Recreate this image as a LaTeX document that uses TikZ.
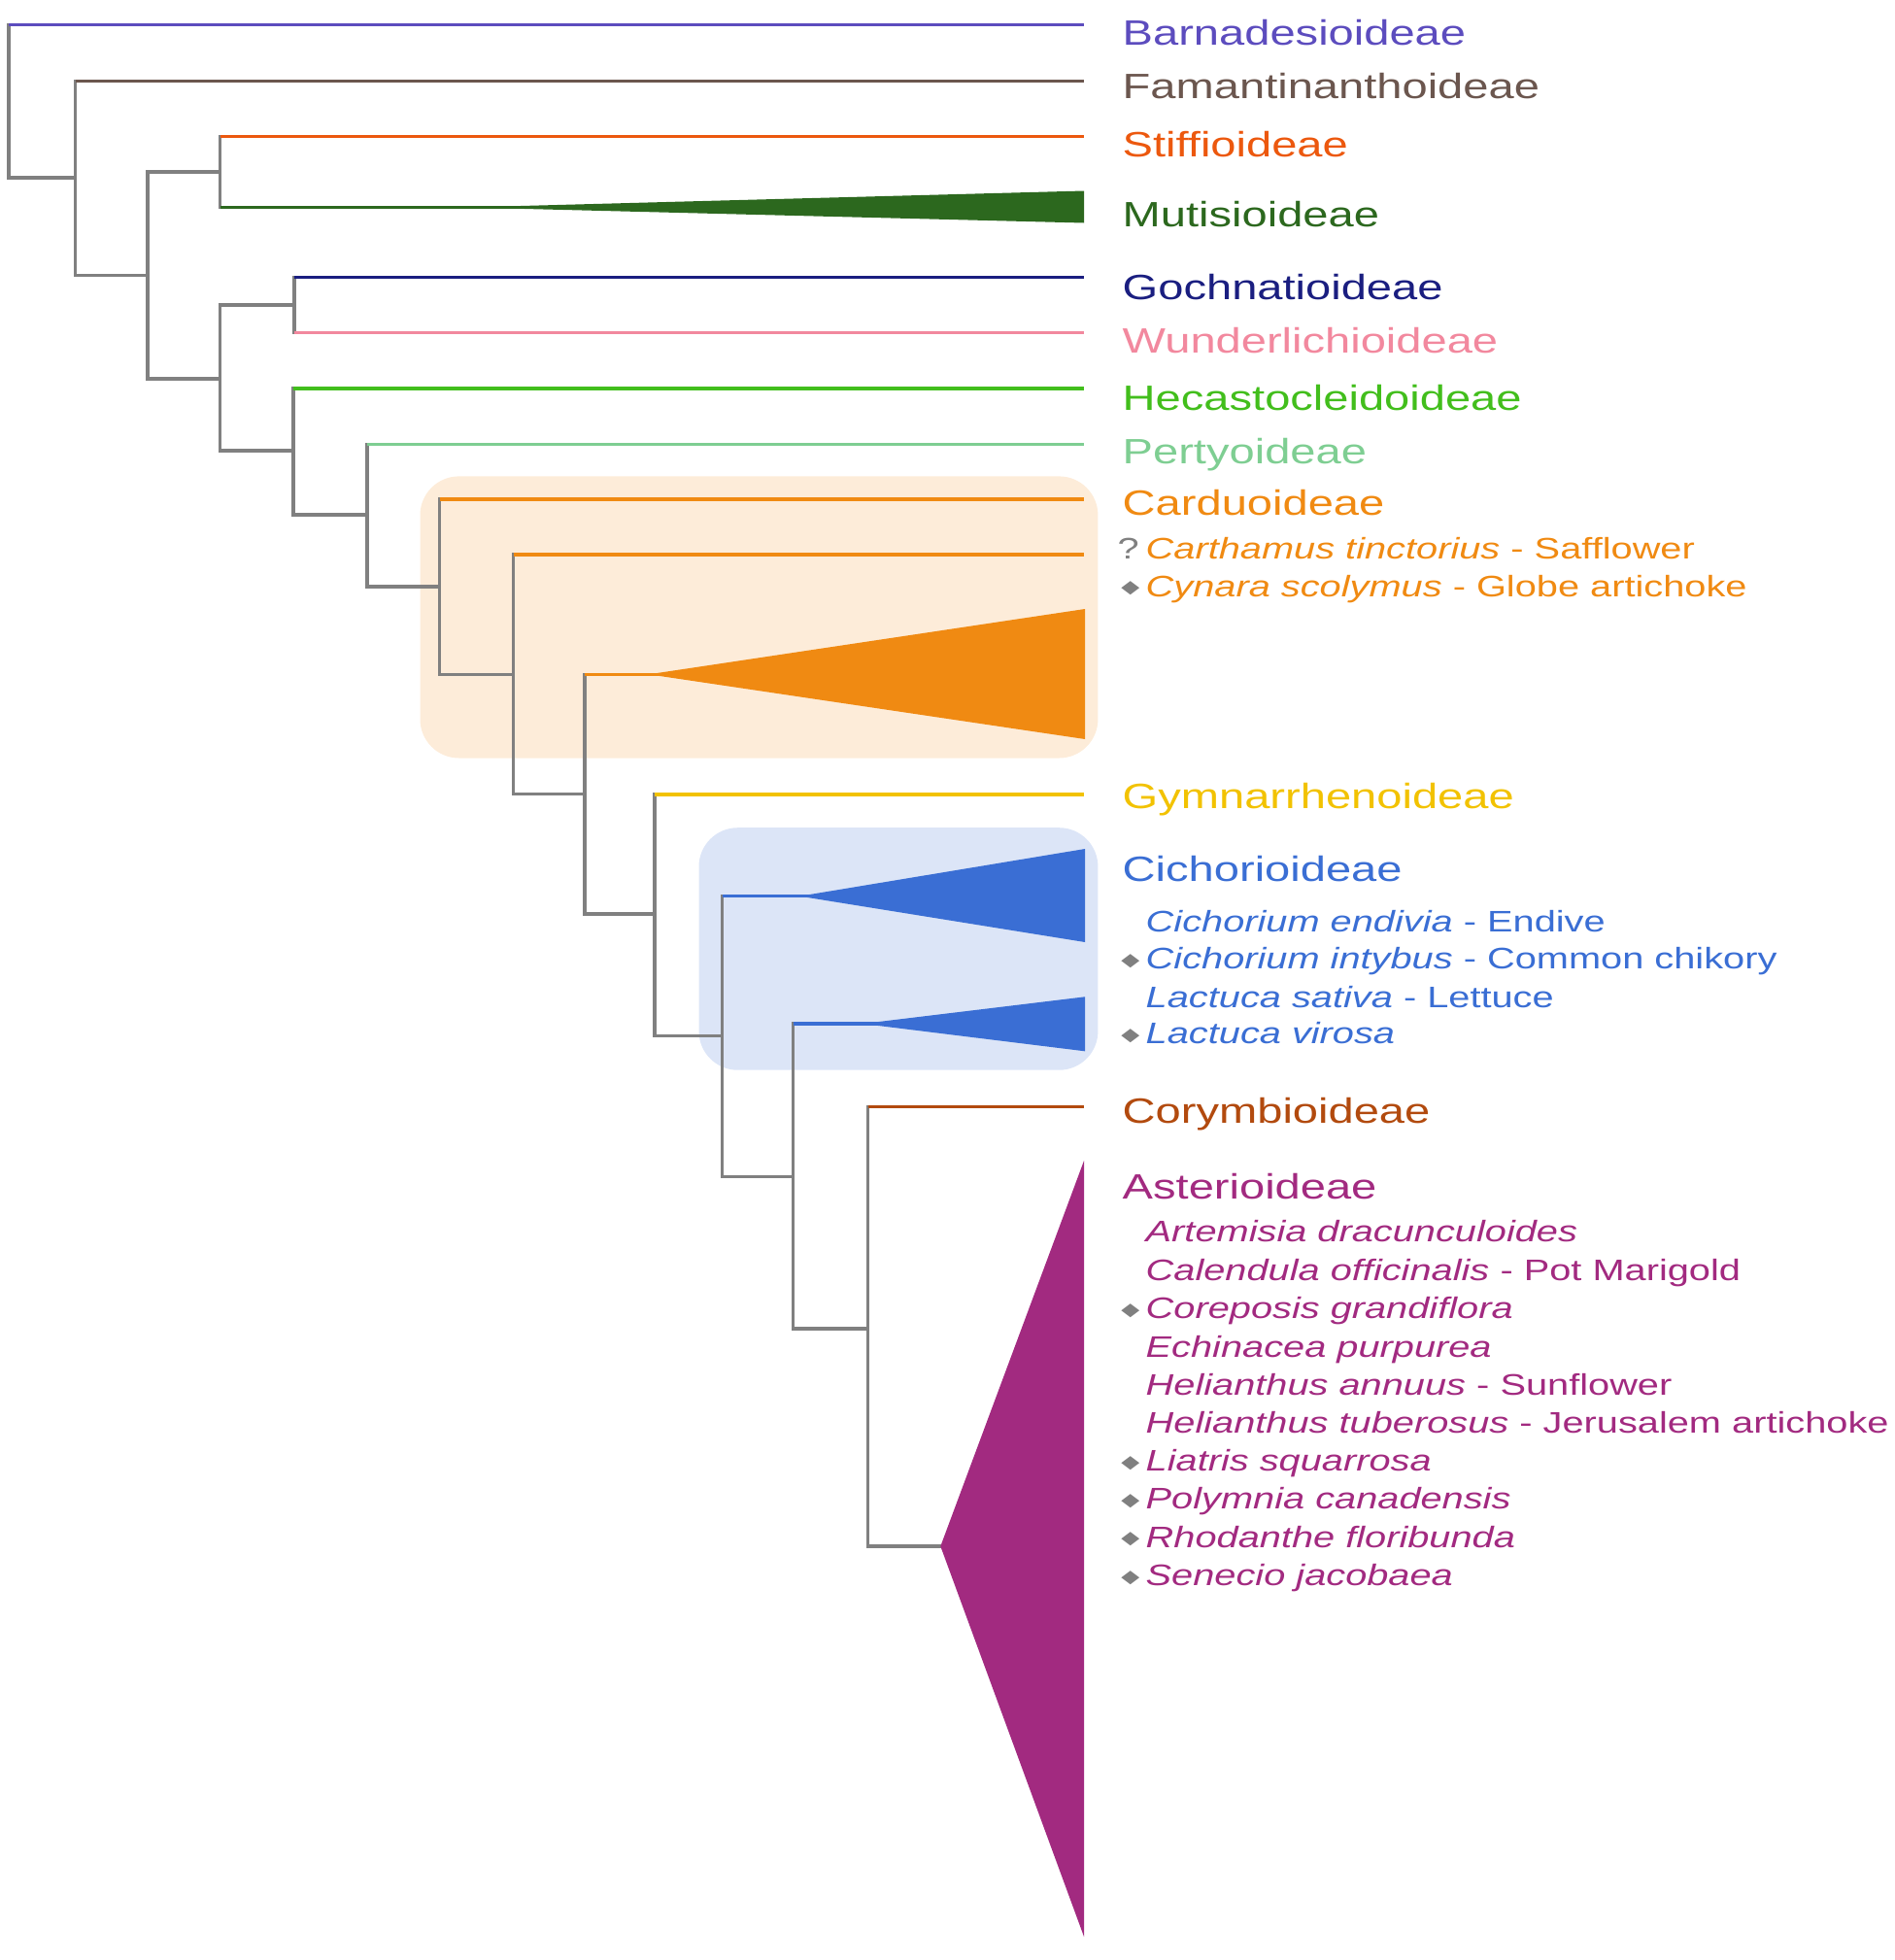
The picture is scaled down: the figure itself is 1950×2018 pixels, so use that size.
\documentclass[tikz,border=0pt]{standalone}
\usepackage{fontspec}
\setmainfont{Liberation Sans}[FakeStretch=1.3]
\newfontfamily\symfont{DejaVu Sans}
\usepackage{xcolor}
\usepackage{tikz}
\usetikzlibrary{calc}

\definecolor{treegray}{RGB}{128,128,128}
\definecolor{cbarn}{RGB}{92,76,190}
\definecolor{cfama}{RGB}{107,86,78}
\definecolor{cstif}{RGB}{236,88,14}
\definecolor{cmuti}{RGB}{44,104,30}
\definecolor{cgoch}{RGB}{26,30,128}
\definecolor{cwund}{RGB}{242,136,158}
\definecolor{checa}{RGB}{66,190,28}
\definecolor{cpert}{RGB}{126,206,146}
\definecolor{ccard}{RGB}{240,138,18}
\definecolor{ccardbox}{RGB}{253,236,217}
\definecolor{cgymn}{RGB}{242,194,0}
\definecolor{ccich}{RGB}{58,110,212}
\definecolor{ccichbox}{RGB}{220,229,247}
\definecolor{ccory}{RGB}{178,74,14}
\definecolor{caste}{RGB}{162,42,128}

\newcommand{\dia}{\llap{\raisebox{0.9pt}{\scalebox{1}[0.75]{\symfont\fontsize{7}{7}\selectfont\color{treegray}◆}}\hspace{1.8pt}}}
\newcommand{\qm}{\llap{{\color{treegray}?}\hspace{2pt}}}

\begin{document}
\begin{tikzpicture}[
        x=0.01cm, y=-0.01cm,
        branch/.style={draw=treegray, line width=1pt, line cap=rect},
        tipline/.style={line width=0.9pt},
        hlbox/.style={rounded corners=0.4cm},
        lab/.style={anchor=base west, inner sep=0pt, font=\fontsize{10.3}{12}\selectfont},
        sp/.style={anchor=base west, inner sep=0pt, font=\fontsize{8.7}{10}\selectfont}
    ]
        \useasboundingbox (0,0) rectangle (1950,2018);

        \fill [hlbox, ccardbox] (432.5,490.4) rectangle (1130.4,780.5);
        \fill [hlbox, ccichbox] (719.5,852.2) rectangle (1130.4,1101.7);

        \coordinate (n1) at (8.8,104.6);
        \coordinate (n2) at (77.5,183);
        \coordinate (n3) at (152,283.5);
        \coordinate (n4) at (226.5,177);
        \coordinate (n5) at (226.5,390);
        \coordinate (n6) at (303,314);
        \coordinate (n7) at (302,464);
        \coordinate (n8) at (378,530);
        \coordinate (n9) at (452.6,604);
        \coordinate (n10) at (528.5,694.3);
        \coordinate (n11) at (601.8,817.6);
        \coordinate (n12) at (674,941);
        \coordinate (n13) at (743.5,1066.7);
        \coordinate (n14) at (816.7,1211.7);
        \coordinate (n15) at (893.5,1367.8);

        \coordinate (barn) at (1116,25.7);
        \coordinate (fama) at (1116,83.4);
        \coordinate (stif) at (1116,140.4);
        \coordinate (muti) at (480,213.5);
        \coordinate (goch) at (1116,285.5);
        \coordinate (wund) at (1116,342.4);
        \coordinate (heca) at (1116,400);
        \coordinate (pert) at (1116,457.5);
        \coordinate (card) at (1116,514);
        \coordinate (card2) at (1116,571);
        \coordinate (cardw) at (667.8,694.3);
        \coordinate (gymn) at (1116,818);
        \coordinate (cichw) at (823.3,922.7);
        \coordinate (lactw) at (888,1054);
        \coordinate (cory) at (1116,1139.5);
        \coordinate (aste) at (968.3,1592);

        \draw [branch] (n1 |- barn) -- (n1 |- n2) -- (n2);
        \draw [branch] (n2 |- fama) -- (n2 |- n3) -- (n3);
        \draw [branch] (n4) -- (n3 |- n4) -- (n3 |- n5) -- (n5);
        \draw [branch] (n4 |- stif) -- (n4 |- muti);
        \draw [branch] (n6) -- (n5 |- n6) -- (n5 |- n7) -- (n7);
        \draw [branch] (n6 |- goch) -- (n6 |- wund);
        \draw [branch] (n7 |- heca) -- (n7 |- n8) -- (n8);
        \draw [branch] (n8 |- pert) -- (n8 |- n9) -- (n9);
        \draw [branch] (n9 |- card) -- (n9 |- n10) -- (n10);
        \draw [branch] (n10 |- card2) -- (n10 |- n11) -- (n11);
        \draw [branch] (n11 |- cardw) -- (n11 |- n12) -- (n12);
        \draw [branch] (n12 |- gymn) -- (n12 |- n13) -- (n13);
        \draw [branch] (n13 |- cichw) -- (n13 |- n14) -- (n14);
        \draw [branch] (n14 |- lactw) -- (n14 |- n15) -- (n15);
        \draw [branch] (n15 |- cory) -- (n15 |- aste) -- ($(aste)+(8,0)$);

        \draw [tipline, cbarn] (n1 |- barn) -- (barn);
        \draw [tipline, cfama] (n2 |- fama) -- (fama);
        \draw [tipline, cstif] (n4 |- stif) -- (stif);
        \fill [cmuti] (muti) -- (1116,196.5) -- (1116,229.5) -- cycle;
        \draw [tipline, cmuti] (n4 |- muti) -- ($(muti)+(120,0)$);
        \draw [tipline, cgoch] (n6 |- goch) -- (goch);
        \draw [tipline, cwund] (n6 |- wund) -- (wund);
        \draw [tipline, checa] (n7 |- heca) -- (heca);
        \draw [tipline, cpert] (n8 |- pert) -- (pert);
        \draw [tipline, ccard] (n9 |- card) -- (card);
        \draw [tipline, ccard] (n10 |- card2) -- (card2);
        \fill [ccard] (cardw) -- (1117,627) -- (1117,761) -- cycle;
        \draw [tipline, ccard] (n11 |- cardw) -- ($(cardw)+(30,0)$);
        \draw [tipline, cgymn] (n12 |- gymn) -- (gymn);
        \fill [ccich] (cichw) -- (1117,874) -- (1117,970) -- cycle;
        \draw [tipline, ccich] (n13 |- cichw) -- ($(cichw)+(30,0)$);
        \fill [ccich] (lactw) -- (1117,1026.3) -- (1117,1082.3) -- cycle;
        \draw [tipline, ccich] (n14 |- lactw) -- ($(lactw)+(30,0)$);
        \draw [tipline, ccory] (n15 |- cory) -- (cory);
        \fill [caste] (aste) -- (1116,1195) -- (1116,1994) -- cycle;

        \node (lbarn) [lab, text=cbarn] at (1155,46.7) {Barnadesioideae};
        \node (lfama) [lab, text=cfama] at (1155,101.7) {Famantinanthoideae};
        \node (lstif) [lab, text=cstif] at (1155,161.7) {Stiffioideae};
        \node (lmuti) [lab, text=cmuti] at (1155,233) {Mutisioideae};
        \node (lgoch) [lab, text=cgoch] at (1155,308) {Gochnatioideae};
        \node (lwund) [lab, text=cwund] at (1155,363) {Wunderlichioideae};
        \node (lheca) [lab, text=checa] at (1155,422) {Hecastocleidoideae};
        \node (lpert) [lab, text=cpert] at (1155,477) {Pertyoideae};
        \node (lcard) [lab, text=ccard] at (1155,530.6) {Carduoideae};
        \node (scard1) [sp, text=ccard] at (1179,575) {\qm\textit{Carthamus tinctorius} - Safflower};
        \node (scard2) [sp, text=ccard] at (1179,614) {\dia\textit{Cynara scolymus} - Globe artichoke};
        \node (lgymn) [lab, text=cgymn] at (1155,832) {Gymnarrhenoideae};
        \node (lcich) [lab, text=ccich] at (1155,907) {Cichorioideae};
        \node (scich1) [sp, text=ccich] at (1179,959) {\textit{Cichorium endivia} - Endive};
        \node (scich2) [sp, text=ccich] at (1179,997.5) {\dia\textit{Cichorium intybus} - Common chikory};
        \node (scich3) [sp, text=ccich] at (1179,1037) {\textit{Lactuca sativa} - Lettuce};
        \node (scich4) [sp, text=ccich] at (1179,1074.5) {\dia\textit{Lactuca virosa}};
        \node (lcory) [lab, text=ccory] at (1155,1156) {Corymbioideae};
        \node (laste) [lab, text=caste] at (1155,1234) {Asterioideae};
        \node (saste1) [sp, text=caste] at (1179,1278.6) {\textit{Artemisia dracunculoides}};
        \node (saste2) [sp, text=caste] at (1179,1318.2) {\textit{Calendula officinalis} - Pot Marigold};
        \node (saste3) [sp, text=caste] at (1179,1357.6) {\dia\textit{Coreposis grandiflora}};
        \node (saste4) [sp, text=caste] at (1179,1397) {\textit{Echinacea purpurea}};
        \node (saste5) [sp, text=caste] at (1179,1436.2) {\textit{Helianthus annuus} - Sunflower};
        \node (saste6) [sp, text=caste] at (1179,1475.4) {\textit{Helianthus tuberosus} - Jerusalem artichoke};
        \node (saste7) [sp, text=caste] at (1179,1514.6) {\dia\textit{Liatris squarrosa}};
        \node (saste8) [sp, text=caste] at (1179,1553.8) {\dia\textit{Polymnia canadensis}};
        \node (saste9) [sp, text=caste] at (1179,1593) {\dia\textit{Rhodanthe floribunda}};
        \node (saste10) [sp, text=caste] at (1179,1632.2) {\dia\textit{Senecio jacobaea}};
    \end{tikzpicture}
\end{document}
